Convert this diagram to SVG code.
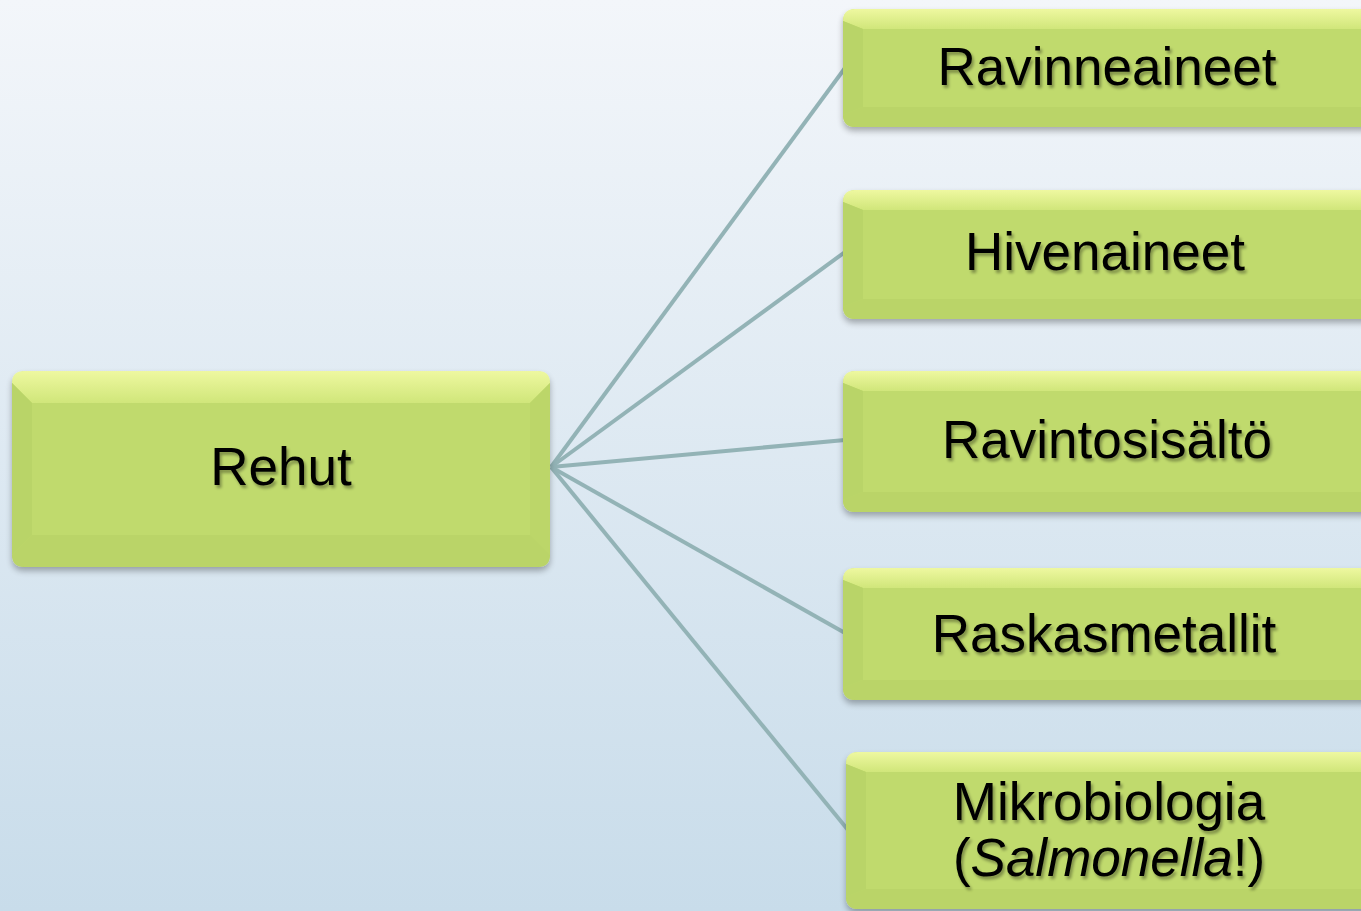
<svg xmlns="http://www.w3.org/2000/svg" width="1361" height="911" viewBox="0 0 1361 911">
<defs>
<linearGradient id="bg" x1="0" y1="0" x2="0" y2="1">
<stop offset="0" stop-color="#f3f6fa"/>
<stop offset="1" stop-color="#c8dcea"/>
</linearGradient>
<linearGradient id="topb" x1="0" y1="0" x2="0" y2="1">
<stop offset="0" stop-color="#eef8a0"/>
<stop offset="1" stop-color="#d0e67a"/>
</linearGradient>
<filter id="sh" x="-10%" y="-10%" width="120%" height="130%">
<feGaussianBlur in="SourceAlpha" stdDeviation="3"/>
<feOffset dx="0" dy="4"/>
<feComponentTransfer><feFuncA type="linear" slope="0.3"/></feComponentTransfer>
<feMerge><feMergeNode/><feMergeNode in="SourceGraphic"/></feMerge>
</filter>
<filter id="tsh" x="-10%" y="-20%" width="120%" height="150%">
<feGaussianBlur in="SourceAlpha" stdDeviation="1.5"/>
<feOffset dx="2" dy="3"/>
<feComponentTransfer><feFuncA type="linear" slope="0.35"/></feComponentTransfer>
<feMerge><feMergeNode/><feMergeNode in="SourceGraphic"/></feMerge>
</filter>
</defs>
<style>
.box{fill:#bfd96b;}
.tb{fill:url(#topb);}
.lb{fill:#b9d468;}
.bb{fill:#bad467;}
.rb{fill:#bcd669;}
.in{fill:#c0da6d;}
.lbl{font-family:"Liberation Sans",Arial,sans-serif;font-size:53px;fill:#000;text-anchor:middle;}
.con{stroke:#93b3b6;stroke-width:4;fill:none;}
</style>
<rect x="0" y="0" width="1361" height="911" fill="url(#bg)"/>
<g id="connectors">
<line class="con" x1="551" y1="467" x2="845" y2="68"/>
<line class="con" x1="551" y1="467" x2="845" y2="252"/>
<line class="con" x1="551" y1="467" x2="845" y2="440"/>
<line class="con" x1="551" y1="467" x2="845" y2="633"/>
<line class="con" x1="551" y1="467" x2="848" y2="830"/>
</g>
<g id="node-rehut" filter="url(#sh)">
<rect class="box" x="12" y="371" width="538" height="196" rx="14"/>
<path class="tb" d="M24,371 H538 Q550,371 550,383 L530,403 H32 L12,383 Q12,371 24,371 Z"/>
<path class="lb" d="M12,383 L32,403 V535 L12,555 Z"/>
<path class="rb" d="M550,383 L530,403 V535 L550,555 Z"/>
<path class="bb" d="M12,555 L32,535 H530 L550,555 Q550,567 538,567 H24 Q12,567 12,555 Z"/>
<rect class="in" x="32" y="403" width="498" height="132"/>
<text class="lbl" x="281" y="485" filter="url(#tsh)">Rehut</text>
</g>
<g id="node-ravinneaineet" filter="url(#sh)">
<rect class="box" x="843" y="9" width="540" height="118" rx="12"/>
<path class="tb" d="M855,9 H1383 V29 H863 L843,21 Q843,9 855,9 Z" transform=""/>
<path class="lb" d="M843,21 L863,29 V107 L843,115 Z"/>
<path class="bb" d="M843,115 L863,107 H1383 V127 H855 Q843,127 843,115 Z"/>
<rect class="in" x="863" y="29" width="520" height="78"/>
<text class="lbl" x="1107" y="85" filter="url(#tsh)">Ravinneaineet</text>
</g>
<g id="node-hivenaineet" filter="url(#sh)">
<rect class="box" x="843" y="190" width="540" height="129" rx="12"/>
<path class="tb" d="M855,190 H1383 V210 H863 L843,202 Q843,190 855,190 Z"/>
<path class="lb" d="M843,202 L863,210 V299 L843,307 Z"/>
<path class="bb" d="M843,307 L863,299 H1383 V319 H855 Q843,319 843,307 Z"/>
<rect class="in" x="863" y="210" width="520" height="89"/>
<text class="lbl" x="1105" y="270" filter="url(#tsh)">Hivenaineet</text>
</g>
<g id="node-ravintosisalto" filter="url(#sh)">
<rect class="box" x="843" y="371" width="540" height="141" rx="12"/>
<path class="tb" d="M855,371 H1383 V391 H863 L843,383 Q843,371 855,371 Z"/>
<path class="lb" d="M843,383 L863,391 V492 L843,500 Z"/>
<path class="bb" d="M843,500 L863,492 H1383 V512 H855 Q843,512 843,500 Z"/>
<rect class="in" x="863" y="391" width="520" height="101"/>
<text class="lbl" x="1107" y="458" filter="url(#tsh)">Ravintosisältö</text>
</g>
<g id="node-raskasmetallit" filter="url(#sh)">
<rect class="box" x="843" y="568" width="540" height="132" rx="12"/>
<path class="tb" d="M855,568 H1383 V588 H863 L843,580 Q843,568 855,568 Z"/>
<path class="lb" d="M843,580 L863,588 V680 L843,688 Z"/>
<path class="bb" d="M843,688 L863,680 H1383 V700 H855 Q843,700 843,688 Z"/>
<rect class="in" x="863" y="588" width="520" height="92"/>
<text class="lbl" x="1104" y="652" filter="url(#tsh)">Raskasmetallit</text>
</g>
<g id="node-mikrobiologia" filter="url(#sh)">
<rect class="box" x="846" y="752" width="540" height="157" rx="12"/>
<path class="tb" d="M858,752 H1386 V772 H866 L846,764 Q846,752 858,752 Z"/>
<path class="lb" d="M846,764 L866,772 V889 L846,897 Z"/>
<path class="bb" d="M846,897 L866,889 H1386 V909 H858 Q846,909 846,897 Z"/>
<rect class="in" x="866" y="772" width="520" height="117"/>
<text class="lbl" x="1109" y="820" filter="url(#tsh)">Mikrobiologia</text>
<text class="lbl" x="1109" y="876" filter="url(#tsh)">(<tspan font-style="italic">Salmonella</tspan>!)</text>
</g>
</svg>
